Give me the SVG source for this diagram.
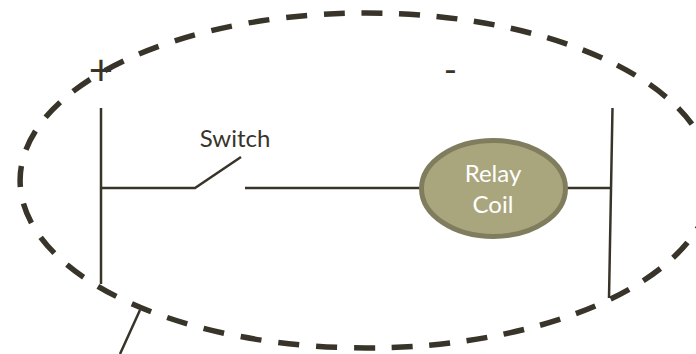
<svg xmlns="http://www.w3.org/2000/svg" width="696" height="354" viewBox="0 0 696 354">
<style>
.w{fill:none;stroke:#38342a;stroke-width:2.5}
.d{fill:none;stroke:#38342a;stroke-width:5.5}
.t{font-family:Lato,"Open Sans",sans-serif;text-anchor:middle}
</style>
<rect width="696" height="354" fill="#fff"/>
<g id="connectors">
<path class="d" pathLength="865" stroke-dasharray="21 16.6" d="M324 14.200A346 167.500 0 1 1 375 347.900"/>
<path class="d" pathLength="798" stroke-dasharray="21 17" d="M375 347.900A346 167.500 0 0 1 324 14.200"/>
<path class="w" d="M101 108V284M101 188H195L241 157M245 188H420M566 188H612M612.500 108L609 298M140 310L120 354"/>
</g>
<g id="plus"><text class="t" x="101" y="85" font-size="42" fill="#38342a">+</text></g>
<g id="minus"><text class="t" x="450.500" y="83" font-size="36" fill="#38342a">-</text></g>
<g id="switch"><text class="t" x="235" y="147" font-size="24" fill="#38342a">Switch</text></g>
<g id="relay-coil">
<ellipse cx="493.500" cy="188.500" rx="72" ry="48" fill="#a9a67e" stroke="#7f7d5e" stroke-width="5"/>
<text class="t" x="493" y="182" font-size="24" fill="#fff">Relay</text>
<text class="t" x="493" y="213" font-size="24" fill="#fff">Coil</text>
</g>
</svg>
